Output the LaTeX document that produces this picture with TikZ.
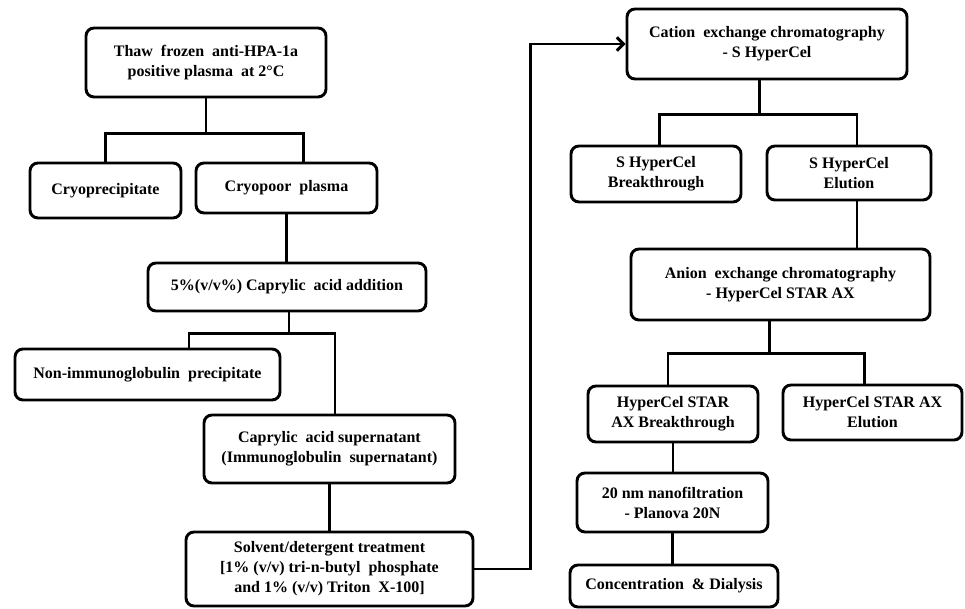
\documentclass[tikz,border=0pt]{standalone}
\usepackage{fontspec}
\setmainfont{Liberation Serif}
\usetikzlibrary{arrows.meta}
\tikzset{
  box/.style={draw, line width=2.2pt, rounded corners=6pt, inner sep=0pt, align=center,
    font=\fontsize{12}{15}\selectfont\bfseries},
  ln/.style={line width=2.2pt},
}
\newcommand\bx[6]{\node[box, minimum width={(#4-#2)*0.75pt}, minimum height={(#5-#3)*0.75pt}] (#1) at ({(#2+#4)/2},{(#3+#5)/2}) {#6};}
\begin{document}
\begin{tikzpicture}[x=0.75pt,y=-0.75pt]
\useasboundingbox (0,0) rectangle (965,609);
\bx{thaw}{86}{28}{326}{97}{Thaw\ \ frozen\ \ anti-HPA-1a\\positive plasma\ \ at 2°C}
\bx{cryo}{30}{163}{181}{218}{Cryoprecipitate}
\bx{cpoor}{196}{163}{377}{213}{Cryopoor\ \ plasma}
\bx{add}{148}{263}{426}{311}{5\%(v/v\%) Caprylic\ \ acid addition}
\bx{nonig}{15}{349}{280}{400}{Non-immunoglobulin\ \ precipitate}
\bx{sup}{204}{415}{455}{483}{Caprylic\ \ acid supernatant\\(Immunoglobulin\ \ supernatant)}
\bx{sd}{186}{532}{473}{606}{Solvent/detergent treatment\\{}[1\% (v/v) tri-n-butyl\ \ phosphate\\and 1\% (v/v) Triton\ \ X-100]}
\bx{cat}{627}{9}{907}{79}{Cation\ \ exchange chromatography\\- S HyperCel}
\bx{sbt}{571}{146}{741}{202}{S HyperCel\\Breakthrough}
\bx{sel}{767}{146}{931}{200}{S HyperCel\\Elution}
\bx{an}{631}{249}{930}{320}{Anion\ \ exchange chromatography\\- HyperCel STAR AX}
\bx{abt}{588}{386}{758}{442}{HyperCel STAR\\AX Breakthrough}
\bx{ael}{783}{385}{962}{440}{HyperCel STAR AX\\Elution}
\bx{nano}{577}{473}{768}{532}{20 nm nanofiltration\\- Planova 20N}
\bx{conc}{570}{565}{778}{607}{Concentration\ \ \& Dialysis}

\draw[ln] (thaw.south) -- ++(0,35) coordinate (j1);
\draw[ln] (cryo.north) |- (j1) -| ([xshift=12.4pt]cpoor.north);
\draw[ln] (cpoor.south) -- (cpoor.south |- add.north);
\draw[ln] ([xshift=1.5pt]add.south) -- ++(0,21) coordinate (j2);
\draw[ln] ([xshift=31.1pt]nonig.north) |- (j2) -| ([xshift=4.1pt]sup.north);
\draw[ln] (sup.south) -- (sup.south |- sd.north);
\draw[ln,-{Straight Barb[length=5pt,width=10pt]}] (sd.east) -- ++(56,0) |- (cat.west);
\draw[ln] ([xshift=-5.3pt]cat.south) -- ++(0,34) coordinate (j3);
\draw[ln] ([xshift=2.3pt]sbt.north) |- (j3) -| ([xshift=6pt]sel.north);
\draw[ln] ([xshift=6pt]sel.south) -- ([xshift=6pt]sel.south |- an.north);
\draw[ln] ([xshift=-8.6pt]an.south) -- ++(0,32) coordinate (j4);
\draw[ln] ([xshift=-3.75pt]abt.north) |- (j4) -| ([xshift=-6pt]ael.north);
\draw[ln] (abt.south) -- (abt.south |- nano.north);
\draw[ln] (nano.south) -- (nano.south |- conc.north);
\end{tikzpicture}
\end{document}
